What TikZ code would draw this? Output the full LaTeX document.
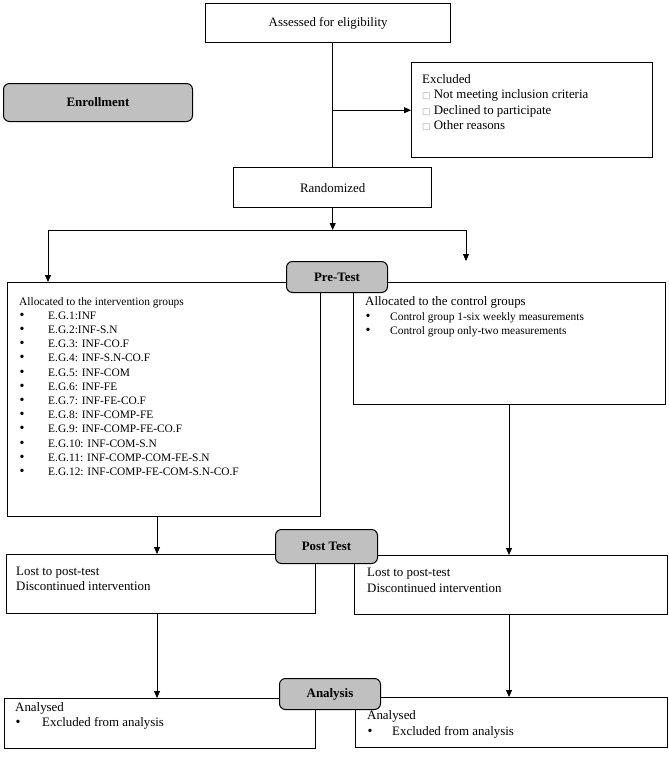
\documentclass[tikz,border=0pt]{standalone}
\usepackage{fontspec}
\setmainfont{Liberation Serif}
\newfontfamily\glyphfont{DejaVu Sans}
\usetikzlibrary{arrows.meta,positioning}

\definecolor{tagfill}{HTML}{C0C0C0}
\newcommand{\tofu}{\textcolor{black!35}{\glyphfont\fontsize{9}{9}\selectfont □}}
\newcommand{\listfont}{\fontsize{11.4}{14.2}\selectfont}
\newcommand{\itm}[2]{\makebox[#1][l]{\hspace{0.5pt}{\fontsize{14}{14}\selectfont\textbullet}}#2}

\tikzset{
  box/.style={draw, line width=1.4pt, rectangle, inner sep=0pt, anchor=north west},
  tag/.style={draw, line width=1pt, rounded corners=6pt, fill=tagfill, font=\fontsize{12.9}{15}\selectfont\bfseries, inner sep=0pt, anchor=north west},
  txt/.style={inner sep=0pt, anchor=north west, align=left},
  arr/.style={-{Triangle[length=7pt,width=6pt]}, line width=0.8pt},
  link/.style={line width=0.8pt}
}

\begin{document}
\begin{tikzpicture}[x=1pt, y=-1pt, font=\fontsize{12.9}{15.3}\selectfont]
  \useasboundingbox (0,0) rectangle (669,760);

  % enrollment
  \node[box, minimum width=245pt, minimum height=39pt] (assess) at (205,3) {Assessed for eligibility};
  \node[box, minimum width=241pt, minimum height=95pt] (excl) at (411,62) {};
  \node[txt, below right=12.5pt and 11pt of excl.north west] (excltxt)
    {Excluded\\ \tofu{} Not meeting inclusion criteria\\ \tofu{} Declined to participate\\ \tofu{} Other reasons};
  \node[box, minimum width=198pt, minimum height=40pt] (rand) at (233,167) {Randomized};
  \node[tag, minimum width=189pt, minimum height=38pt] (enroll) at (3,83) {Enrollment};

  \draw[link] (rand.north |- assess.south) -- (rand.north);
  \draw[arr] (rand.north |- excl.west) -- (excl.west);

  % allocation
  \coordinate (brL) at (48,230);
  \coordinate (brR) at (466,230);
  \coordinate (tipR) at (466,261);
  \node[box, minimum width=313pt, minimum height=234pt] (intv) at (7,282) {};
  \node[txt, font=\listfont, below right=15pt and 12pt of intv.north west] (intvtxt)
    {Allocated to the intervention groups\\
     \itm{29pt}{E.G.1:INF}\\
     \itm{29pt}{E.G.2:INF-S.N}\\
     \itm{29pt}{E.G.3: INF-CO.F}\\
     \itm{29pt}{E.G.4: INF-S.N-CO.F}\\
     \itm{29pt}{E.G.5: INF-COM}\\
     \itm{29pt}{E.G.6: INF-FE}\\
     \itm{29pt}{E.G.7: INF-FE-CO.F}\\
     \itm{29pt}{E.G.8: INF-COMP-FE}\\
     \itm{29pt}{E.G.9: INF-COMP-FE-CO.F}\\
     \itm{29pt}{E.G.10: INF-COM-S.N}\\
     \itm{29pt}{E.G.11: INF-COMP-COM-FE-S.N}\\
     \itm{29pt}{E.G.12: INF-COMP-FE-COM-S.N-CO.F}};
  \node[box, minimum width=312pt, minimum height=122pt] (ctl) at (353,282) {};
  \node[txt, font=\fontsize{12.9}{14.5}\selectfont, below right=14.5pt and 12pt of ctl.north west] (ctltxt)
    {Allocated to the control groups\\
     {\listfont\itm{25pt}{Control group 1-six weekly measurements}}\\
     {\listfont\itm{25pt}{Control group only-two measurements}}};
  \node[tag, minimum width=101pt, minimum height=31pt] (pre) at (286,261) {Pre-Test};

  \draw[arr] (rand.south) -- (rand.south |- brL);
  \draw[link] (brL) -- (brR);
  \draw[arr] (brL) -- (brL |- intv.north);
  \draw[arr] (brR) -- (tipR);

  % follow-up
  \coordinate (colL) at (157,0);
  \coordinate (colR) at (509,0);
  \node[box, minimum width=309pt, minimum height=59pt] (lostL) at (6,554) {};
  \node[txt, below right=12.5pt and 10pt of lostL.north west] (lostLtxt)
    {Lost to post-test\\ Discontinued intervention};
  \node[box, minimum width=313pt, minimum height=59pt] (lostR) at (354,555) {};
  \node[txt, font=\fontsize{12.9}{16}\selectfont, below right=12.5pt and 13pt of lostR.north west] (lostRtxt)
    {Lost to post-test\\ Discontinued intervention};
  \node[tag, minimum width=102pt, minimum height=34pt] (post) at (275,529) {Post Test};

  \draw[arr] (intv.south -| colL) -- (lostL.north -| colL);
  \draw[arr] (ctl.south -| colR) -- (lostR.north -| colR);

  % analysis
  \node[box, minimum width=311pt, minimum height=50pt] (analL) at (4,698) {};
  \node[txt, below right=4.5pt and 11pt of analL.north west] (analLtxt)
    {Analysed\\ \itm{27pt}{Excluded from analysis}};
  \node[box, minimum width=312pt, minimum height=50pt] (analR) at (355,697) {};
  \node[txt, font=\fontsize{12.9}{16}\selectfont, below right=13.5pt and 12pt of analR.north west] (analRtxt)
    {Analysed\\ \itm{25pt}{Excluded from analysis}};
  \node[tag, minimum width=101pt, minimum height=31pt] (anal) at (279,678) {Analysis};

  \draw[arr] (lostL.south -| colL) -- (analL.north -| colL);
  \draw[arr] (lostR.south -| colR) -- (analR.north -| colR);
\end{tikzpicture}
\end{document}
